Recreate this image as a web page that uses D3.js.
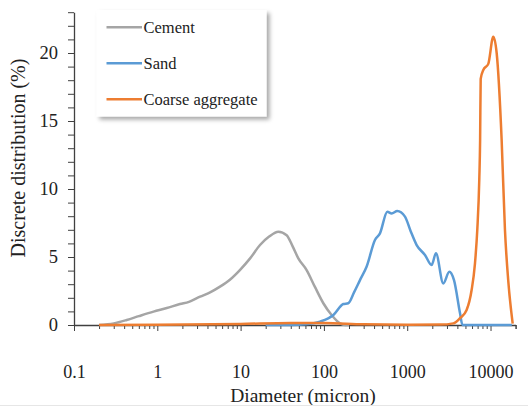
<!DOCTYPE html>
<html lang="en">
<head>
<meta charset="UTF-8">
<title>Discrete distribution</title>
<style>
    body { margin: 0; padding: 0; background: #fff; }
    svg { display: block; font-family: "Liberation Serif", "Times New Roman", serif; }
</style>
</head>
<body>
<svg id="chart" width="528" height="407"></svg>
<script src="https://d3js.org/d3.v7.min.js"></script>
<script>
// data
const seriesNames = ["Cement", "Sand", "Coarse aggregate"];
const seriesColors = ["#A5A5A5", "#5B9BD5", "#ED7D31"];

const cementDiameter = [0.2, 0.3, 0.43, 0.6, 0.9, 1.3, 1.87, 2.4, 3.26, 4.3, 5.66, 7.5, 9.8, 13, 17.1, 22, 28.4, 35.7, 42, 49.3, 62, 78, 98.4, 125, 156, 180, 200];
const cementValue    = [0, 0.12, 0.37, 0.65, 0.98, 1.25, 1.54, 1.7, 2.08, 2.4, 2.82, 3.35, 4.04, 4.9, 5.88, 6.5, 6.86, 6.6, 5.8, 4.9, 4.04, 2.8, 1.6, 0.7, 0.12, 0, 0];

const sandDiameter = [20, 40, 60, 89.8, 130, 171, 196, 230, 271, 326, 410, 471, 577, 650, 760, 940, 1100, 1298, 1633, 1963, 2213, 2710, 3200, 3645, 4305, 4600, 6000, 10000, 18000];
const sandValue    = [0, 0, 0.05, 0.25, 0.74, 1.54, 1.6, 2.4, 3.3, 4.3, 6.25, 6.74, 8.33, 8.2, 8.38, 7.97, 6.9, 5.88, 5.15, 4.41, 5.27, 3.06, 3.92, 3.3, 0.86, 0, 0, 0, 0];

const coarseDiameter = [0.2, 1, 10, 40, 100, 300, 1000, 2500, 3573, 4305, 5164, 5930, 6500, 6936, 7330, 7500, 7620, 8190, 9400, 10800, 11850, 13600, 14900, 16300, 18450];
const coarseValue    = [0, 0.02, 0.08, 0.15, 0.15, 0.05, 0.02, 0.03, 0.12, 0.5, 1.1, 2.57, 4.5, 7.0, 10.7, 13.6, 18.1, 18.75, 19.2, 21.2, 20.0, 13.6, 7.0, 3.3, 0.1];

const xTickValues = [0.1, 1, 10, 100, 1000, 10000];
const xTickLabels = ["0.1", "1", "10", "100", "1000", "10000"];
const yTickValues = [0, 5, 10, 15, 20];

const svg = d3.select("#chart");

const plotLeft = 74, plotRight = 515.6, plotTop = 12.2, plotBottom = 325;

const x = d3.scaleLog().domain([0.1, 20000]).range([plotLeft, plotRight]);
const y = d3.scaleLinear().domain([0, 23]).range([plotBottom, plotTop]);

const axisColor = "#404040";

// minor x ticks
const xMinor = [];
for (let e = -1; e <= 4; e++) {
    for (let m = 2; m <= 9; m++) xMinor.push(m * Math.pow(10, e));
}
xMinor.push(20000);
svg.append("g")
    .attr("transform", `translate(0,${plotBottom})`)
    .call(d3.axisBottom(x).tickValues(xMinor).tickSize(4).tickFormat(""))
    .call(g => g.select(".domain").remove())
    .call(g => g.selectAll("line").attr("stroke", axisColor));

// major x ticks + axis line
const xAxis = svg.append("g")
    .attr("transform", `translate(0,${plotBottom})`)
    .call(d3.axisBottom(x).tickValues(xTickValues).tickSize(6).tickSizeOuter(0)
        .tickFormat((d, i) => xTickLabels[i]).tickPadding(34));
xAxis.select(".domain").attr("stroke", axisColor).attr("stroke-width", 1.3);
xAxis.selectAll("line").attr("stroke", axisColor);
xAxis.selectAll("text").attr("fill", "#222").style("font-size", "18px")
    .style("font-family", "Liberation Serif, serif");

// minor y ticks
svg.append("g")
    .attr("transform", `translate(${plotLeft},0)`)
    .call(d3.axisLeft(y).tickValues(d3.range(0, 24, 1)).tickSize(6).tickFormat(""))
    .call(g => g.select(".domain").remove())
    .call(g => g.selectAll("line").attr("stroke", axisColor));

const yAxis = svg.append("g")
    .attr("transform", `translate(${plotLeft},0)`)
    .call(d3.axisLeft(y).tickValues(yTickValues).tickSize(6).tickSizeOuter(0).tickPadding(10));
yAxis.select(".domain").attr("stroke", axisColor).attr("stroke-width", 1.3);
yAxis.selectAll("line").attr("stroke", axisColor);
yAxis.selectAll("text").attr("fill", "#222").style("font-size", "18.5px")
    .style("font-family", "Liberation Serif, serif");

// axis titles
svg.append("text")
    .attr("x", 303).attr("y", 402)
    .attr("text-anchor", "middle")
    .attr("fill", "#222")
    .style("font-size", "19.5px")
    .text("Diameter (micron)");

svg.append("text")
    .attr("transform", "translate(25,158) rotate(-90)")
    .attr("text-anchor", "middle")
    .attr("fill", "#222")
    .style("font-size", "20px")
    .text("Discrete distribution (%)");

// lines
const line = d3.line()
    .x(d => x(d[0]))
    .y(d => y(d[1]))
    .curve(d3.curveMonotoneX);

const allSeries = [
    d3.zip(cementDiameter, cementValue),
    d3.zip(sandDiameter, sandValue),
    d3.zip(coarseDiameter, coarseValue)
];

allSeries.forEach((pts, i) => {
    svg.append("path")
        .datum(pts)
        .attr("d", line)
        .attr("fill", "none")
        .attr("stroke", seriesColors[i])
        .attr("stroke-width", 2.5)
        .attr("stroke-linejoin", "round");
});

// legend with drop shadow
const defs = svg.append("defs");
const f = defs.append("filter").attr("id", "shadow")
    .attr("x", "-10%").attr("y", "-10%").attr("width", "130%").attr("height", "140%");
f.append("feDropShadow").attr("dx", 3).attr("dy", 3).attr("stdDeviation", 2)
    .attr("flood-color", "#000").attr("flood-opacity", 0.35);

const legend = svg.append("g");
legend.append("rect")
    .attr("x", 96.5).attr("y", 10).attr("width", 170).attr("height", 106.5)
    .attr("fill", "#fff")
    .attr("filter", "url(#shadow)");

const legendY = [27.3, 63.3, 99.3];
seriesNames.forEach((name, i) => {
    legend.append("line")
        .attr("x1", 106.5).attr("x2", 142)
        .attr("y1", legendY[i]).attr("y2", legendY[i])
        .attr("stroke", seriesColors[i]).attr("stroke-width", 2.5);
    legend.append("text")
        .attr("x", 143.5).attr("y", legendY[i] + 5.5)
        .attr("fill", "#222")
        .style("font-size", "16.5px")
        .text(name);
});

// faint bottom border line as in the reference
svg.append("line")
    .attr("x1", 0).attr("x2", 528).attr("y1", 405.5).attr("y2", 405.5)
    .attr("stroke", "#e6e6e6");
</script>
</body>
</html>
